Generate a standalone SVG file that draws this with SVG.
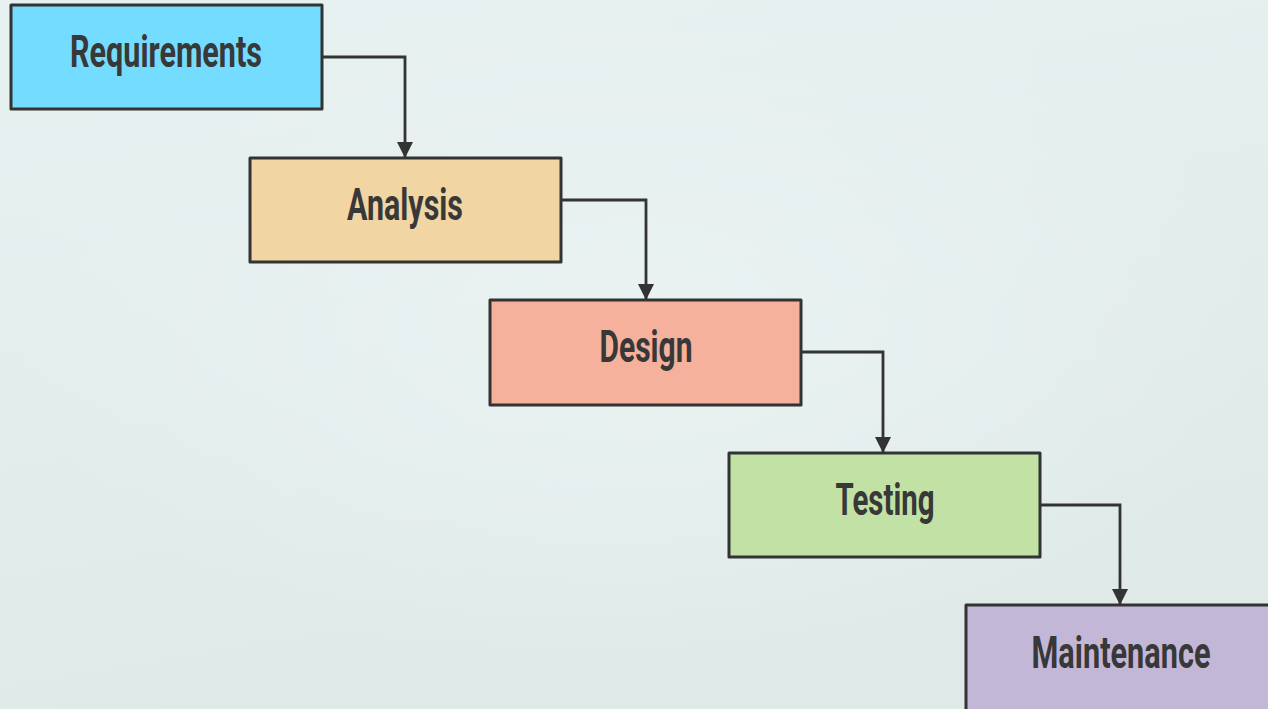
<svg xmlns="http://www.w3.org/2000/svg" width="1268" height="709" viewBox="0 0 1268 709">
  <defs>
    <linearGradient id="bgLinear" x1="0" y1="0" x2="0.3" y2="1">
      <stop offset="0" stop-color="#e8f1f1"/>
      <stop offset="1" stop-color="#dfeae8"/>
    </linearGradient>
    <radialGradient id="bgGlow" cx="0.5" cy="0.45" r="0.5">
      <stop offset="0" stop-color="#ebf3f3" stop-opacity="0.9"/>
      <stop offset="1" stop-color="#ebf3f3" stop-opacity="0"/>
    </radialGradient>
    <marker id="arrow" viewBox="0 0 16 16" refX="16" refY="8" markerWidth="16" markerHeight="16" markerUnits="userSpaceOnUse" orient="auto">
      <path d="M0,0 L16,8 L0,16 Z" fill="#333333"/>
    </marker>
    <style>
      .box { stroke: #333333; stroke-width: 3; stroke-linejoin: round; }
      .label { font-family: Roboto, "DejaVu Sans", sans-serif; font-weight: bold; font-size: 45px; fill: #383838; text-anchor: middle; }
      .link { fill: none; stroke: #333333; stroke-width: 2.8; }
    </style>
  </defs>

  <rect width="1268" height="709" fill="url(#bgLinear)"/>
  <rect width="1268" height="709" fill="url(#bgGlow)"/>

  <g id="connectors">
    <path class="link" d="M322,57 H405 V158" marker-end="url(#arrow)"/>
    <path class="link" d="M561,200 H646 V300" marker-end="url(#arrow)"/>
    <path class="link" d="M801,352 H883 V453" marker-end="url(#arrow)"/>
    <path class="link" d="M1040,505 H1120 V605" marker-end="url(#arrow)"/>
  </g>

  <g id="requirements">
    <rect class="box" x="11" y="5" width="311" height="104" fill="#74dcff"/>
    <text class="label" x="166" y="67" textLength="192" lengthAdjust="spacingAndGlyphs">Requirements</text>
  </g>

  <g id="analysis">
    <rect class="box" x="250" y="158" width="311" height="104" fill="#f1d5a3"/>
    <text class="label" x="405" y="220" textLength="116" lengthAdjust="spacingAndGlyphs">Analysis</text>
  </g>

  <g id="design">
    <rect class="box" x="490" y="300" width="311" height="105" fill="#f5b19c"/>
    <text class="label" x="646" y="362" textLength="93" lengthAdjust="spacingAndGlyphs">Design</text>
  </g>

  <g id="testing">
    <rect class="box" x="729" y="453" width="311" height="104" fill="#c1e1a5"/>
    <text class="label" x="885" y="515" textLength="99" lengthAdjust="spacingAndGlyphs">Testing</text>
  </g>

  <g id="maintenance">
    <rect class="box" x="966" y="605" width="311" height="110" fill="#c3b7d8"/>
    <text class="label" x="1121" y="668" textLength="179" lengthAdjust="spacingAndGlyphs">Maintenance</text>
  </g>
</svg>
